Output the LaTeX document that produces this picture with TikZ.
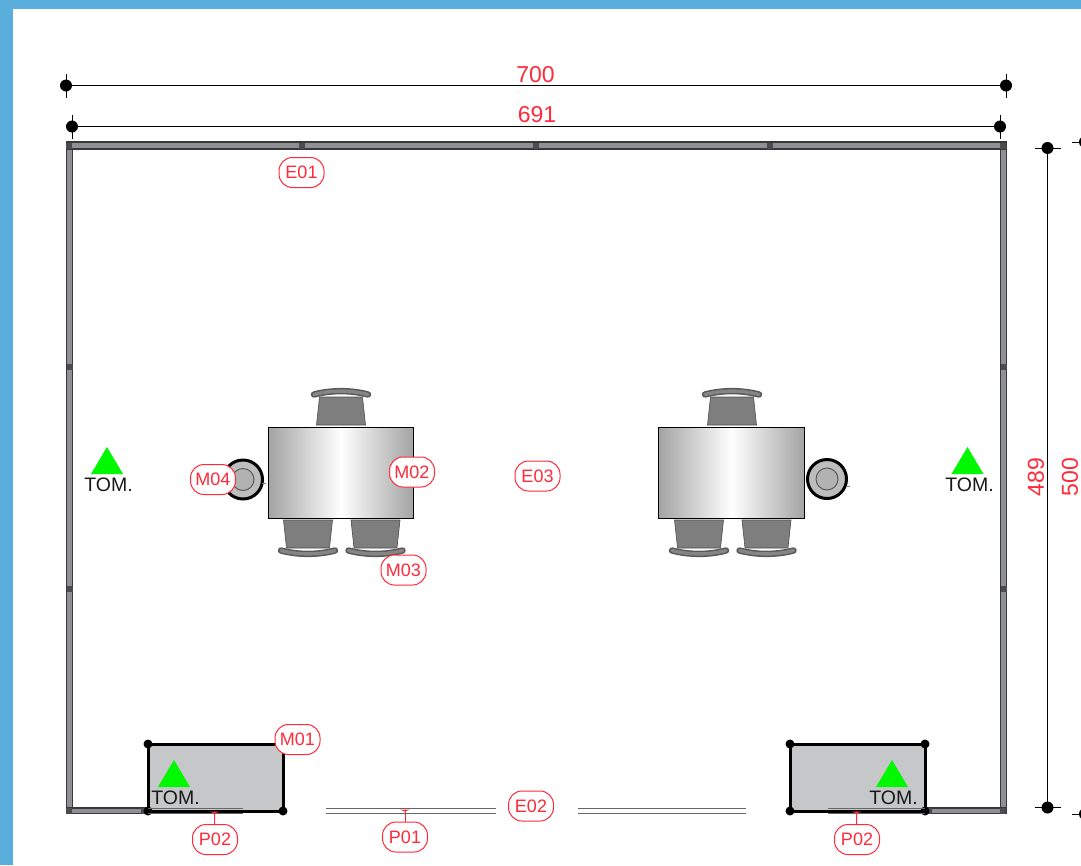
\documentclass[tikz,border=0pt]{standalone}
\usepackage{fontspec}
\setmainfont{Liberation Sans}
\definecolor{framecol}{HTML}{5AAEDB}
\definecolor{wallcol}{HTML}{8F9093}
\definecolor{boxcol}{HTML}{C6C7C9}
\definecolor{chaircol}{HTML}{7E7E7E}
\definecolor{tagred}{HTML}{FF2A3A}
\definecolor{triangcol}{HTML}{00F800}
\tikzset{
  tag/.style={draw=tagred,fill=white,line width=1pt,rounded corners=13.5pt,inner sep=0pt,
    minimum width=45pt,minimum height=30pt,text=tagred,font=\fontsize{18}{18}\selectfont},
  dimtext/.style={text=tagred,inner sep=0pt,font=\fontsize{23}{23}\selectfont},
  tomtext/.style={inner sep=0pt,text=black!90,font=\fontsize{19.5}{20}\selectfont},
  wall/.style={draw=black!78,fill=wallcol,line width=1.2pt},
  winline/.style={draw=black!60,line width=1pt},
  tabletop/.style={draw=black,line width=0.9pt,left color=black!36,right color=black!36,middle color=white},
  unitbox/.style={draw=black,fill=boxcol,line width=3pt},
  chair/.pic={
    \draw[fill=chaircol,draw=black!70,line width=0.6pt] (-24.5,-2) -- (-21.5,-30) -- (21.5,-30) -- (24.5,-2) -- cycle;
    \draw[black!65,line width=6.4pt,line cap=round] (-27,-32.5) .. controls (-10,-37) and (10,-37) .. (27,-32.5);
    \draw[black!48,line width=3.4pt,line cap=round] (-27,-32.5) .. controls (-10,-37) and (10,-37) .. (27,-32.5);
  },
  stool/.pic={
    \draw[fill=black!26,draw=black,line width=3pt] (0,0) circle (19.5);
    \draw[fill=black!30,draw=black!65,line width=1pt] (0,0) circle (11);
  }
}
\begin{document}
\begin{tikzpicture}[x=1pt, y=-1pt]
\useasboundingbox (0,0) rectangle (1081,865);

% frame
\fill[white] (0,0) rectangle (1081,865);
\fill[framecol] (0,0) rectangle (1081,9);
\fill[framecol] (0,0) rectangle (13,865);

% walls
\draw[wall] (66.5,142) rectangle (1006.5,149);
\draw[wall] (66.5,149) rectangle (72.5,813.5);
\draw[wall] (1000.5,149) rectangle (1006.5,813.5);
\draw[wall] (66.5,808) rectangle (147,813.5);
\draw[wall] (926,808) rectangle (1006.5,813.5);

% wall joints
\foreach \xa in {69,302,536,770,1003}
  \fill[black!70] (\xa-3,142.5) rectangle (\xa+3,148.5);
\foreach \ya in {367,589} {
  \fill[black!70] (66.5,\ya-3) rectangle (72.5,\ya+3);
  \fill[black!70] (1000.5,\ya-3) rectangle (1006.5,\ya+3);
}
\foreach \xa in {69,144,929,1003}
  \fill[black!70] (\xa-3,808) rectangle (\xa+3,813.5);

% windows
\foreach \xa/\xb in {326/496,578/746} {
  \draw[winline] (\xa,808.5) -- (\xb,808.5);
  \draw[winline] (\xa,813.5) -- (\xb,813.5);
}

% units under the windows
\draw[unitbox] (148,744) rectangle (283,811);
\draw[unitbox] (790,744) rectangle (925,811);
\foreach \xa/\ya in {148/744,148/811,283/811,790/744,925/744,790/811,925/811}
  \fill (\xa,\ya) circle (4.5);
\draw[winline] (148,808.5) -- (243,808.5);
\draw[winline] (148,813.5) -- (243,813.5);
\draw[winline] (828,808.5) -- (925,808.5);
\draw[winline] (828,813.5) -- (925,813.5);

% left table
\pic at (341,427) {chair};
\pic[yscale=-1] at (308,518) {chair};
\pic[yscale=-1] at (375.5,518) {chair};
\pic at (243,479.5) {stool};
\draw[black!50,line width=0.6pt] (262,483) -- (266,483);
\draw[tabletop] (268.5,427.5) rectangle (413.5,518.5);

% right table
\pic at (732,427) {chair};
\pic[yscale=-1] at (699,518) {chair};
\pic[yscale=-1] at (766.5,518) {chair};
\pic at (827,479) {stool};
\draw[black!50,line width=0.6pt] (846,486) -- (850,486);
\draw[tabletop] (658.5,427.5) rectangle (804.5,518.5);

% outlets
\foreach \xa/\ya in {91/474,951.5/474,158/787,876/787}
  \fill[triangcol] (\xa,\ya) -- (\xa+32,\ya) -- (\xa+16,\ya-27) -- cycle;
\node[tomtext] (tomleft) at (108.5,484.5) {TOM.};
\node[tomtext] (tomright) at (969.5,484.5) {TOM.};
\node[tomtext] (tomunita) at (175.5,798) {TOM.};
\node[tomtext] (tomunitb) at (893.5,798) {TOM.};

% dimensions
\coordinate (dima) at (66,85.5);
\coordinate (dimb) at (1006,85.5);
\coordinate (dimc) at (72,126.5);
\coordinate (dimd) at (1000,126.5);
\coordinate (dime) at (1047.5,148);
\coordinate (dimf) at (1047.5,807.5);
\coordinate (dimg) at (1085,142);
\coordinate (dimh) at (1085,814);
\draw[line width=1.1pt] (dima) -- (dimb);
\draw[line width=1.1pt] (dimc) -- (dimd);
\draw[line width=1.1pt] (dime) -- (dimf);
\draw[line width=1.1pt] (dimg) -- (dimh);
\foreach \pt in {dima,dimb,dimc,dimd} {
  \fill (\pt) circle (6);
  \draw[line width=1pt] ([yshift=12pt]\pt) -- ([yshift=-12pt]\pt);
}
\foreach \pt in {dime,dimf,dimg,dimh} {
  \fill (\pt) circle (6);
  \draw[line width=1pt] ([xshift=-13pt]\pt) -- ([xshift=13pt]\pt);
}
\node[dimtext] (labela) at (535.5,74.5) {700};
\node[dimtext] (labelb) at (537,114.5) {691};
\node[dimtext,rotate=90] (labelc) at (1036,477) {489};
\node[dimtext,rotate=90] (labeld) at (1070,477) {500};

% tags
\coordinate (pmarka) at (214.5,811.5);
\coordinate (pmarkb) at (405,809.5);
\coordinate (pmarkc) at (856.5,811.5);
\node[tag] (tage01) at (301.5,172.5) {E01};
\node[tag] (tage02) at (531,806) {E02};
\node[tag] (tage03) at (537.5,476) {E03};
\node[tag] (tagm01) at (297.5,739.5) {M01};
\node[tag] (tagm02) at (412,472) {M02};
\node[tag] (tagm03) at (403.5,570) {M03};
\node[tag] (tagm04) at (213,479.5) {M04};
\node[tag] (tagp02a) at (215,839.5) {P02};
\node[tag] (tagp01) at (405,837) {P01};
\node[tag] (tagp02b) at (857,839.5) {P02};
\draw[tagred,line width=1pt] (tagp02a) -- (pmarka);
\draw[tagred,line width=1pt] (tagp01) -- (pmarkb);
\draw[tagred,line width=1pt] (tagp02b) -- (pmarkc);
\foreach \pt in {pmarka,pmarkb,pmarkc}
  \fill[tagred] ([xshift=-5pt]\pt) -- ([yshift=-2pt]\pt) -- ([xshift=5pt]\pt) -- cycle;

\end{tikzpicture}
\end{document}
